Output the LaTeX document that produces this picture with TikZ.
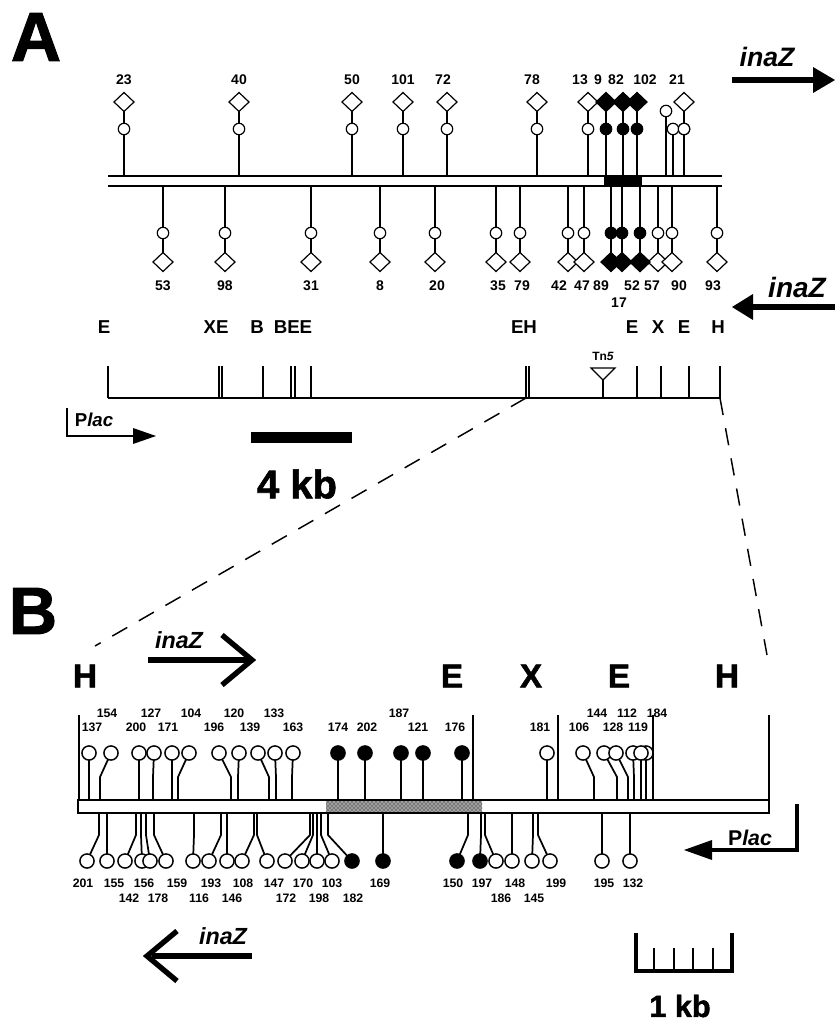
\documentclass[tikz,border=0pt]{standalone}
\usepackage{fontspec}
\setmainfont{Liberation Sans}
\newfontfamily\heavy{Liberation Sans}[BoldFeatures={FakeBold=1.6}]
\usetikzlibrary{patterns}
\begin{document}
\begin{tikzpicture}[x=0.75pt,y=-0.75pt,
  stemA/.style={line width=0.9pt},
  stemB/.style={line width=1.3pt},
  lolo/.style={draw,fill=white,line width=0.9pt},
  lolf/.style={draw,fill=black,line width=0.9pt},
  bo/.style={draw,fill=white,line width=1.1pt},
  bf/.style={draw,fill=black,line width=1.1pt},
  numA/.style={font=\fontsize{10.5}{12}\selectfont\bfseries,inner sep=0pt},
  numB/.style={font=\fontsize{9.2}{10}\selectfont\bfseries,inner sep=0pt},
  reA/.style={font=\fontsize{14}{16}\selectfont\bfseries,inner sep=0pt},
  reB/.style={font=\heavy\fontsize{25}{28}\selectfont\bfseries,inner sep=0pt},
  panel/.style={font=\heavy\fontsize{52}{56}\selectfont\bfseries,inner sep=0pt},
  inaz/.style={font=\bfseries\itshape,inner sep=0pt},
  dashline/.style={line width=1.1pt,dash pattern=on 13pt off 10pt},
  siteB/.style={line width=2.2pt},
]
\useasboundingbox (0,0) rectangle (835,1022);

% ================= Panel A =================
\node[panel] (pA) at (36,37) {A};

% inaZ arrows
\node[inaz,font=\fontsize{20}{22}\selectfont\bfseries\itshape] (iz1) at (767,57) {inaZ};
\coordinate (a1s) at (732,80);
\coordinate (a1e) at (813,80);
\draw[line width=3.8pt] (a1s) -- (a1e);
\fill (813,67) -- (835,80) -- (813,93) -- cycle;
\node[inaz,font=\fontsize{21}{23}\selectfont\bfseries\itshape] (iz2) at (797,287) {inaZ};
\coordinate (a2s) at (835,307);
\coordinate (a2e) at (752,307);
\draw[line width=3.8pt] (a2s) -- (a2e);
\fill (753,294) -- (732,307) -- (753,320) -- cycle;

% upper lollipops
\foreach \x/\lx/\l/\s in {124/124/23/lolo,239/239/40/lolo,352/352/50/lolo,403/403/101/lolo,447/443/72/lolo,537/532/78/lolo,588/580/13/lolo,606/598/9/lolf,623/616/82/lolf,637/645/102/lolf,684/677/21/lolo}{
  \draw[stemA] (\x,176) -- (\x,102);
  \draw[\s] (\x,129) circle[radius=4.3pt];
  \draw[\s] (\x,92.5) -- (\x+10,102) -- (\x,111.5) -- (\x-10,102) -- cycle;
  \node[numA] (u\l) at (\lx,80) {\l};
}
\draw[stemA] (666,176) -- (666,111);
\draw[lolo] (666,111) circle[radius=4.3pt];
\draw[stemA] (673,176) -- (673,129);
\draw[lolo] (673,129) circle[radius=4.3pt];
\draw[lolo] (684,129) circle[radius=4.3pt];

% lower lollipops
\foreach \x/\lx/\l/\s in {163/163/53/lolo,225/225/98/lolo,311/311/31/lolo,380/380/8/lolo,435/437/20/lolo,496/498/35/lolo,520/522/79/lolo,568/559/42/lolo,584/582/47/lolo,611/601/89/lolf,640/632/52/lolf,658/652/57/lolo,672/679/90/lolo,717/713/93/lolo}{
  \draw[stemA] (\x,186) -- (\x,262);
  \draw[\s] (\x,233) circle[radius=4.3pt];
  \draw[\s] (\x,252.5) -- (\x+10,262) -- (\x,271.5) -- (\x-10,262) -- cycle;
  \node[numA] (d\l) at (\lx,286) {\l};
}
\draw[stemA] (622,186) -- (622,262);
\draw[lolf] (622,233) circle[radius=4.3pt];
\draw[lolf] (622,252.5) -- (632,262) -- (622,271.5) -- (612,262) -- cycle;
\node[numA] (d17) at (619,303) {17};
\draw[lolf] (640,252.5) -- (650,262) -- (640,271.5) -- (630,262) -- cycle;

% double line with black block
\draw[line width=1.5pt] (108,176) -- (722,176);
\draw[line width=1.5pt] (108,186) -- (722,186);
\fill (604,176) rectangle (642,186);

% restriction map A
\foreach \x/\t/\n in {104/E/r1,216/XE/r2,257/B/r3,293/BEE/r4,524/EH/r5,632/E/r6,658/X/r7,684/E/r8,718/H/r9}{
  \node[reA] (\n) at (\x,327) {\t};
}
\draw[line width=1.2pt] (108,398) -- (720,398);
\foreach \x in {108,219,222,263,291,295,311,526,529,637,661,689,720}{
  \draw[line width=0.8pt] (\x,366) -- (\x,398);
}
\draw[line width=0.9pt] (603,380) -- (603,398);
\draw[line width=0.9pt,fill=white] (591,368) -- (615,368) -- (603,380) -- cycle;
\node[font=\fontsize{9}{10}\selectfont\bfseries,inner sep=0pt] (tn5) at (603,356) {Tn\textit{5}};

% Plac A
\draw[line width=1.2pt] (67,408) -- (67,436) -- (134,436);
\fill (133,428) -- (156,436) -- (133,444) -- cycle;
\node[font=\fontsize{14}{16}\selectfont\bfseries,inner sep=0pt] (placA) at (94,420) {P\textit{lac}};

% 4 kb scale
\fill (251,432) rectangle (352,443);
\node[font=\heavy\fontsize{30}{32}\selectfont\bfseries,inner sep=0pt] (kb4) at (297,484) {4 kb};

% dashed zoom lines
\coordinate (z1) at (526,398);
\coordinate (z2) at (95,646);
\coordinate (z3) at (720,398);
\coordinate (z4) at (767,655);
\draw[dashline] (z1) -- (z2);
\draw[dashline] (z3) -- (z4);

% ================= Panel B =================
\node[panel,font=\heavy\fontsize{50}{54}\selectfont\bfseries] (pB) at (33,611) {B};

\foreach \x/\t/\n in {85/H/s1,452/E/s2,531/X/s3,619/E/s4,727/H/s5}{
  \node[reB] (\n) at (\x,676) {\t};
}

% inaZ arrows B
\node[inaz,font=\fontsize{17.5}{19}\selectfont\bfseries\itshape] (iz3) at (179,640) {inaZ};
\draw[line width=4.6pt] (148,660) -- (248,660);
\draw[line width=4pt,miter limit=10] (222,635) -- (252,660) -- (222,685);
\node[inaz,font=\fontsize{17.5}{19}\selectfont\bfseries\itshape] (iz4) at (223,936) {inaZ};
\draw[line width=4.6pt] (252,956) -- (152,956);
\draw[line width=4pt,miter limit=10] (177,931) -- (147,956) -- (177,981);

% site lines B
\foreach \x in {79,473,558,653,769}{
  \draw[siteB] (\x,715) -- (\x,801);
}

% upper lollipops B
\foreach \cx/\sx/\s in {89/89/bo,111/100/bo,139/139/bo,154/153/bo,172/172/bo,189/178/bo,219/231/bo,239/238/bo,258/269/bo,275/276/bo,293/292/bo,338/338/bf,365/365/bf,401/401/bf,423/423/bf,462/462/bf,547/547/bo,583/594/bo,604/617/bo,616/628/bo,633/634/bo,646/646/bo,641/641/bo}{
  \draw[stemB] (\sx,800) -- (\sx,777) -- (\cx,753);
  \draw[\s] (\cx,753) circle[radius=5.3pt];
}
\foreach \x/\l in {107/154,151/127,191/104,234/120,274/133,399/187,597/144,627/112,657/184}{
  \node[numB] (bu\l) at (\x,713) {\l};
}
\foreach \x/\l in {92/137,136/200,168/171,214/196,250/139,293/163,338/174,367/202,418/121,455/176,540/181,579/106,613/128,638/119}{
  \node[numB] (bu\l) at (\x,727) {\l};
}
\draw[siteB] (653,715) -- (653,801);

% lower lollipops B
\foreach \cx/\sx/\s in {87/99/bo,107/107/bo,125/136/bo,142/141/bo,150/146/bo,166/154/bo,193/194/bo,209/221/bo,227/227/bo,242/254/bo,267/257/bo,285/310/bo,302/313/bo,317/317/bo,332/321/bo,352/328/bf,383/383/bf,457/468/bf,480/481/bf,496/485/bo,512/512/bo,532/533/bo,550/538/bo,602/602/bo,630/630/bo}{
  \draw[stemB] (\sx,813) -- (\sx,835) -- (\cx,861);
  \draw[\s] (\cx,861) circle[radius=5.3pt];
}
\foreach \x/\l in {83/201,114/155,144/156,177/159,211/193,243/108,274/147,303/170,332/103,380/169,453/150,482/197,515/148,556/199,604/195,633/132}{
  \node[numB] (bd\l) at (\x,883) {\l};
}
\foreach \x/\l in {129/142,158/178,199/116,232/146,286/172,319/198,353/182,501/186,534/145}{
  \node[numB] (bd\l) at (\x,898) {\l};
}

% bar B
\fill[white] (78,800) rectangle (769,813);
\fill[gray!75] (326,800) rectangle (482,813);
\fill[pattern=crosshatch dots,pattern color=black] (326,800) rectangle (482,813);
\draw[line width=1.5pt] (78,800) rectangle (769,813);

% Plac B
\draw[line width=2.3pt] (797,804) -- (797,850) -- (710,850);
\fill (712,840) -- (684,850) -- (712,860) -- cycle;
\node[font=\fontsize{16}{18}\selectfont\bfseries,inner sep=0pt] (placB) at (750,838) {P\textit{lac}};

% 1 kb scale
\draw[line width=2.3pt] (636,933) -- (636,971) -- (732,971) -- (732,933);
\foreach \x in {654,674,693,713}{
  \draw[line width=1.4pt] (\x,948) -- (\x,971);
}
\node[font=\heavy\fontsize{23}{25}\selectfont\bfseries,inner sep=0pt] (kb1) at (680,1006) {1 kb};
\end{tikzpicture}
\end{document}
